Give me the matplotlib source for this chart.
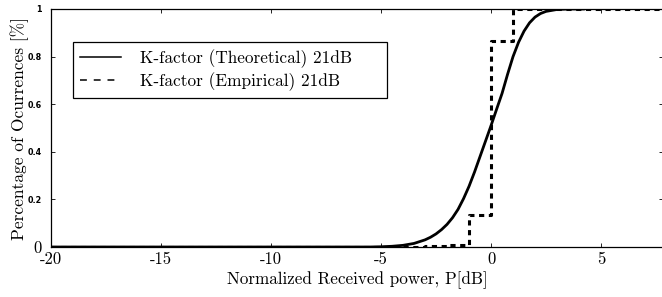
import matplotlib
matplotlib.use("Agg")
import matplotlib.pyplot as plt

# Theoretical CDF
theo_x = [-20, -5.5, -5.0, -4.5, -4.0, -3.5, -3.0, -2.75, -2.5, -2.25, -2.0, -1.75, -1.5,
          -1.25, -1.0, -0.75, -0.5, -0.25, 0.0, 0.25, 0.5, 0.75, 1.0, 1.25, 1.5, 1.75,
          2.0, 2.25, 2.5, 3.0, 3.5, 4.2]
theo_y = [0, 0, 0.001, 0.003, 0.007, 0.015, 0.03, 0.041, 0.055, 0.073, 0.095, 0.123, 0.158,
          0.203, 0.255, 0.315, 0.38, 0.445, 0.51, 0.578, 0.645, 0.725, 0.80, 0.86, 0.907, 0.942,
          0.966, 0.981, 0.99, 0.998, 1.0, 1.0]

# Empirical step CDF
emp_x = [-20, -3, -2, -1, 0, 1, 7.9]
emp_y = [0, 0.004, 0.008, 0.135, 0.865, 1.0, 1.0]

xticks = [-20, -15, -10, -5, 0, 5]
xticklabels = ["-20", "-15", "-10", "-5", "0", "5"]
yticks = [0, 0.2, 0.4, 0.6, 0.8, 1]
yticklabels = ["0", "0.2", "0.4", "0.6", "0.8", "1"]

serif = ["cmr10", "DejaVu Serif"]

fig = plt.figure(figsize=(6.62, 2.97), dpi=100)
W, H = 662, 297
ax = fig.add_axes([51 / W, 1 - 247 / H, 612.3 / W, 238 / H])

ax.plot(theo_x, theo_y, color="black", lw=2.0, label="K-factor (Theoretical) 21dB")
ax.plot(emp_x, emp_y, color="black", lw=2.2, drawstyle="steps-post",
        dashes=(1.7, 1.5), label="K-factor (Empirical) 21dB")

ax.set_xlim(-20, 7.83)
ax.set_ylim(0, 1)
ax.set_xticks(xticks)
ax.set_xticklabels(xticklabels, fontfamily=serif, fontsize=12)
ax.set_yticks(yticks)
ax.set_yticklabels(yticklabels, fontfamily="DejaVu Sans", fontsize=5.8, fontweight="bold")
lbls = ax.get_yticklabels()
lbls[0].set_fontfamily(serif)
lbls[0].set_fontsize(12)
lbls[0].set_fontweight("normal")

ax.tick_params(direction="in", length=3, width=0.6, top=True, right=True)
ax.tick_params(axis="x", pad=3.5)
ax.tick_params(axis="y", pad=6.5)
for s in ax.spines.values():
    s.set_linewidth(0.9)

ax.set_xlabel("Normalized Received power, P[dB]", fontfamily=serif, fontsize=12.3, labelpad=3)
ax.set_ylabel("Percentage of Ocurrences [%]", fontfamily=serif, fontsize=12.5, labelpad=-1)

aw = 612.3
ah = 238
leg = ax.legend(loc="upper left",
                bbox_to_anchor=(22 / aw, 1 - 33 / ah - 56 / ah, 314 / aw, 56 / ah),
                mode="expand", borderaxespad=0,
                prop={"family": serif, "size": 12.4}, frameon=True, fancybox=False,
                edgecolor="black", framealpha=1, borderpad=0.4, handlelength=2.4,
                handletextpad=1.1, labelspacing=0.28)
leg.get_frame().set_linewidth(0.9)
for ln in leg.get_lines():
    ln.set_linewidth(1.1)
leg.get_lines()[1].set_dashes((4.5, 4.5))

fig.savefig("out.png", dpi=100)
